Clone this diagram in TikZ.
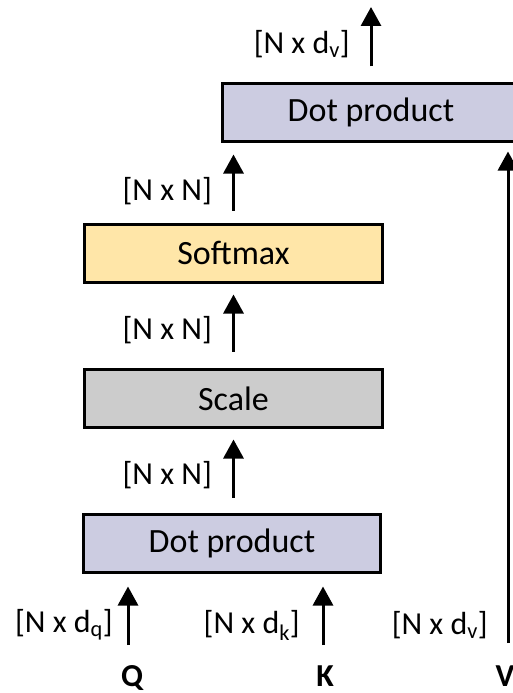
\documentclass[tikz,border=0pt]{standalone}
\usepackage{fontspec}
\setmainfont{Carlito}
\usetikzlibrary{arrows.meta, calc, positioning}
\tikzset{>={Triangle[width=20pt,length=19pt]}}
\definecolor{dotblue}{RGB}{204,204,225}
\definecolor{softorange}{RGB}{255,230,168}
\definecolor{scalegray}{RGB}{204,204,204}
\tikzset{
    block/.style={draw, line width=3pt, minimum width=297pt, minimum height=58pt, inner sep=0pt, font=\fontsize{34}{40}\selectfont},
    flow/.style={->, line width=3pt, shorten <=15pt, shorten >=11pt},
    dims/.style={anchor=east, inner sep=0pt, font=\fontsize{32}{38}\selectfont},
    input/.style={anchor=base, inner sep=0pt, font=\fontsize{32}{38}\selectfont\bfseries}
}

\begin{document}
\begin{tikzpicture}[x=1pt, y=-1pt]
    \useasboundingbox (0,0) rectangle (513,693);
    \clip (0,0) rectangle (513,693);
    \node [block, fill=dotblue] (dotqk) at (232,543) {Dot product};
    \node [block, fill=scalegray, minimum width=298pt] (scale) at (233.5,398.5) {Scale};
    \node [block, fill=softorange, minimum width=298pt] (softmax) at (233.5,253) {Softmax};
    \node [block, fill=dotblue] (dotv) at (371,112) {Dot product};
    \node [input] (q) at (132,686) {Q};
    \node [input] (k) at (325,686) {K};
    \node [input] (v) at (505,686) {V};
    \coordinate (qin) at (128,645);
    \coordinate (kin) at (323,645);
    \coordinate (vin) at (508,643);
    \coordinate (out) at (371,7);
    \draw [flow, shorten <=0pt, shorten >=13pt] (qin) -- (qin |- dotqk.south);
    \draw [flow, shorten <=0pt, shorten >=13pt] (kin) -- (kin |- dotqk.south);
    \draw [flow, shorten <=0pt, shorten >=9pt] (vin) -- (vin |- dotv.south);
    \draw [flow, shorten >=10.5pt] (scale.south |- dotqk.north) -- (scale.south);
    \draw [flow, shorten <=16.5pt] (scale.north) -- (softmax.south);
    \draw [flow, shorten <=12pt, shorten >=12pt] (softmax.north) -- (softmax.north |- dotv.south);
    \draw [flow, shorten >=0pt] (dotv.north) -- (out);
    \node [dims] (dimq) at (113,625) {[N x d\textsubscript{q}]};
    \node [dims] (dimk) at (300,625) {[N x d\textsubscript{k}]};
    \node [dims] (dimv) at (488,625) {[N x d\textsubscript{v}]};
    \node [dims] (dims1) at (212,475) {[N x N]};
    \node [dims] (dims2) at (212,330) {[N x N]};
    \node [dims] (dims3) at (212,191) {[N x N]};
    \node [dims] (dimout) at (350,44) {[N x d\textsubscript{v}]};
\end{tikzpicture}
\end{document}
